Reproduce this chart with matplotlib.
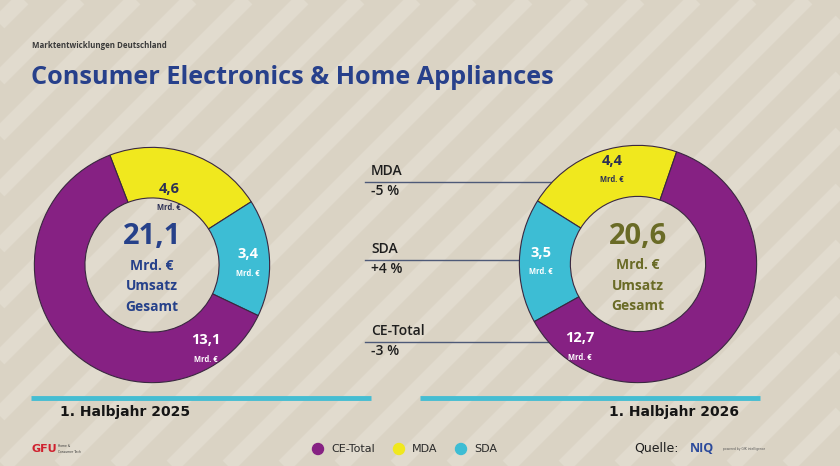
import matplotlib
matplotlib.use("Agg")
import matplotlib.pyplot as plt
import numpy as np
from matplotlib.patches import Circle

# ---- data ----
segments = ["MDA", "SDA", "CE-Total"]
values_2025 = [4.6, 3.4, 13.1]
values_2026 = [4.4, 3.5, 12.7]
total_2025 = "21,1"
total_2026 = "20,6"
period_labels = ["1. Halbjahr 2025", "1. Halbjahr 2026"]
change_labels = ["MDA", "SDA", "CE-Total"]
change_values = ["-5 %", "+4 %", "-3 %"]
legend_labels = ["CE-Total", "MDA", "SDA"]

colors = {"MDA": "#F0E81E", "SDA": "#3DBDD4", "CE-Total": "#862183"}
label_colors = {"MDA": "#2B2F55", "SDA": "#FFFFFF", "CE-Total": "#FFFFFF"}
W, H = 840, 466
BG = "#DAD3C4"

fig = plt.figure(figsize=(W / 100, H / 100), dpi=100, facecolor=BG)

# background stripes (decorative)
bg = fig.add_axes([0, 0, 1, 1])
bg.set_xlim(0, W); bg.set_ylim(H, 0); bg.axis("off")
for off in range(-500, 1400, 56):
    bg.plot([off, off + 500], [H, H - 500], color="#E1DBCE", lw=11, solid_capstyle="butt", zorder=0)

def px(x, y):
    return x / W, 1 - y / H

def fmt(v):
    return f"{v:.1f}".replace(".", ",")

def donut(cx, cy, R, vals, start, ccw, total, total_color, label_pos):
    ax = fig.add_axes([(cx - R) / W, 1 - (cy + R) / H, 2 * R / W, 2 * R / H])
    ax.set_facecolor("none")
    ax.pie(vals, colors=[colors[s] for s in segments], startangle=start,
           counterclock=ccw, radius=1,
           wedgeprops=dict(width=0.43, edgecolor="#3A2840", linewidth=0.8))
    ax.set_xlim(-1.02, 1.02); ax.set_ylim(-1.02, 1.02)
    ax.set_aspect("auto")
    ax.axis("off")
    for s, v, (lx, ly) in zip(segments, vals, label_pos):
        fig.text(*px(lx, ly - 9), fmt(v), ha="center", va="center", fontsize=10.5,
                 fontweight="bold", color=label_colors[s], family="Open Sans")
        fig.text(*px(lx, ly + 10), "Mrd. €", ha="center", va="center", fontsize=5.5,
                 fontweight="bold", color=label_colors[s], family="Open Sans")
    fig.text(*px(cx, cy - 28), total, ha="center", va="center", fontsize=21,
             fontweight="bold", color=total_color, family="Open Sans")
    for i, t in enumerate(["Mrd. €", "Umsatz", "Gesamt"]):
        fig.text(*px(cx, cy + 1 + i * 20.5), t, ha="center", va="center", fontsize=10,
                 fontweight="bold", color=total_color, family="Open Sans")

donut(152, 265, 120, values_2025, 111, False, total_2025, "#26418A",
      [(169, 198), (248, 263), (206, 349)])
donut(638, 264, 121, values_2026, 71, True, total_2026, "#6A6B26",
      [(612, 170), (541, 262), (580, 347)])

# header
fig.text(*px(32, 46), "Marktentwicklungen Deutschland", fontsize=5.7, fontweight="bold",
         color="#3A3A3A", va="center", ha="left", family="Open Sans")
fig.text(*px(31, 78), "Consumer Electronics & Home Appliances", fontsize=18.2,
         fontweight="bold", color="#27408B", va="center", ha="left", family="Open Sans")

# change annotations
line_y = [182, 260, 342]
line_end = [580, 525, 556]
for lab, val, ly, le in zip(change_labels, change_values, line_y, line_end):
    bg.plot([365, le], [ly, ly], color="#4E5A78", lw=1.0, zorder=3)
    fig.text(*px(371, ly - 11), lab, fontsize=10, color="#1E1E1E", va="center",
             ha="left", family="Open Sans", fontweight="semibold")
    fig.text(*px(371, ly + 9), val, fontsize=10, color="#1E1E1E", va="center",
             ha="left", family="Open Sans", fontweight="semibold")

# period bars
bg.plot([31, 371], [398, 398], color="#45BDD2", lw=3.5, solid_capstyle="butt", zorder=3)
bg.plot([420, 760], [398, 398], color="#45BDD2", lw=3.5, solid_capstyle="butt", zorder=3)
cond = ["DejaVu Sans"]
fig.text(*px(125, 412), period_labels[0], fontsize=10, fontweight="bold", color="#151515",
         ha="center", va="center", family=cond)
fig.text(*px(674, 412), period_labels[1], fontsize=10, fontweight="bold", color="#151515",
         ha="center", va="center", family=cond)

# legend
leg_x = [318, 399, 461]
for lab, lx in zip(legend_labels, leg_x):
    bg.add_patch(Circle((lx, 449), 5.5, color=colors[lab], zorder=3))
    fig.text(*px(lx + 13, 449), lab, fontsize=8, color="#2A2A2A", ha="left", va="center",
             family=cond)

# logos / source
fig.text(*px(32, 449), "GFU", fontsize=8, fontweight="bold", color="#D0202E", ha="left",
         va="center", family=cond)
fig.text(*px(58, 446), "Home &", fontsize=2.2, color="#333333", ha="left", va="center")
fig.text(*px(58, 452), "Consumer Tech", fontsize=2.2, color="#333333", ha="left", va="center")
fig.text(*px(634, 448), "Quelle:", fontsize=9, color="#1E1E1E", ha="left", va="center",
         family=cond)
fig.text(*px(690, 448), "NIQ", fontsize=9, fontweight="bold", color="#2C4B9C", ha="left",
         va="center", family="Open Sans")
fig.text(*px(723, 449), "powered by GfK intelligence", fontsize=2.2, color="#555555",
         ha="left", va="center")

fig.savefig("out.png", dpi=100, facecolor=BG)
